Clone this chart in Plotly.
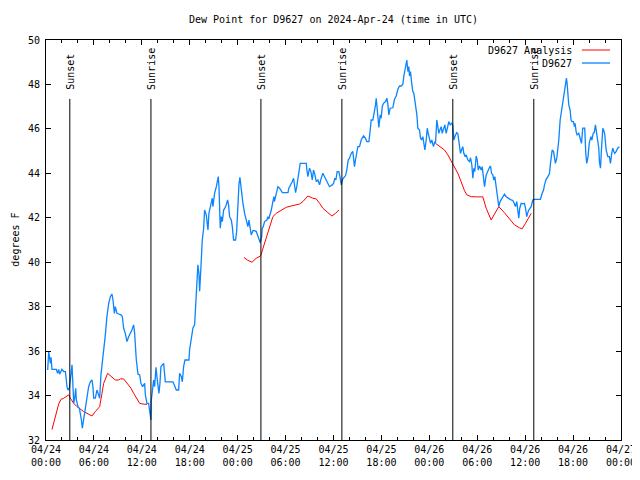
import pandas as pd
import plotly.graph_objects as go

# ---------------- data ----------------
base_time = pd.Timestamp("2024-04-24 00:00")

# D9627 observations (hours since 2024-04-24 00:00 UTC, dew point in F)
obs_hours = [
    0.21, 0.34, 0.55, 0.63, 0.75, 1.00, 1.30, 1.45, 1.59, 1.71, 2.00, 2.22, 2.43, 2.63, 2.75, 2.93,
    3.05, 3.18, 3.26, 3.38, 3.47, 3.59, 3.72, 3.80, 3.88, 4.00, 4.18, 4.30, 4.43, 4.55, 4.68, 4.80,
    4.97, 5.13, 5.34, 5.55, 5.76, 5.88, 5.97, 6.18, 6.38, 6.59, 6.72, 6.88, 7.06, 7.22, 7.43, 7.63,
    7.85, 8.06, 8.26, 8.39, 8.56, 8.68, 8.89, 9.10, 9.39, 9.56, 9.72, 9.93, 10.14, 10.35, 10.56, 10.76,
    10.98, 11.10, 11.31, 11.52, 11.73, 11.89, 12.10, 12.35, 12.44, 12.64, 12.85, 12.98, 13.14, 13.19,
    13.35, 13.48, 13.60, 13.77, 13.89, 14.02, 14.14, 14.27, 14.39, 14.56,
    14.73, 14.94, 15.40, 15.90, 16.32, 16.61, 16.73, 16.95, 17.07, 17.23, 17.40, 17.90, 17.98, 18.20,
    18.40, 18.61, 18.74, 18.90, 19.02, 19.15, 19.24, 19.36, 19.45, 19.57, 19.74, 19.86, 20.07, 20.15,
    20.28, 20.40, 20.57, 20.70, 20.82, 20.90, 21.11, 21.33, 21.45, 21.57, 21.66, 21.74, 21.82, 21.95,
    22.08, 22.24, 22.40, 22.57, 22.74, 22.86, 22.99, 23.20, 23.33, 23.49, 23.74, 23.87, 23.99, 24.16,
    24.28, 24.37, 24.49, 24.66, 24.87, 25.07, 25.28, 25.41, 25.57, 25.70, 25.91, 26.12, 26.33, 26.53,
    26.66, 26.83,
    27.00, 27.08, 27.20, 27.37, 27.66, 27.79, 27.90, 28.08, 28.21, 28.41, 28.54, 28.60, 28.70, 28.83,
    29.04, 29.25, 29.46, 29.60, 30.08, 30.30, 30.41, 30.58, 30.83, 31.00, 31.10, 31.25, 31.40, 31.67,
    31.83, 32.17, 32.59, 32.67, 32.79, 33.00, 33.17, 33.34, 33.50, 33.67, 33.84, 34.05, 34.26, 34.46,
    34.67, 34.88, 35.09, 35.30, 35.50, 35.84, 36.00, 36.17, 36.30, 36.46, 36.67, 36.84, 36.97, 37.17,
    37.51, 37.67, 37.84, 38.00, 38.22, 38.42, 38.63, 38.75, 38.92, 39.05,
    39.26, 39.47, 39.76, 40.01, 40.18, 40.43, 40.60, 40.72, 40.93, 41.14, 41.26, 41.35, 41.47, 41.60,
    41.68, 41.85, 41.97, 42.10, 42.26, 42.52, 42.68, 42.80, 42.93, 43.10, 43.43, 43.64, 43.85, 44.06,
    44.27, 44.48, 44.68, 44.81, 44.93, 45.10, 45.18, 45.31, 45.43, 45.52, 45.64, 45.77, 45.93, 46.06,
    46.23, 46.44, 46.56, 46.77, 46.90, 47.02, 47.19, 47.31, 47.44, 47.61, 47.74, 47.86, 48.02, 48.15,
    48.31, 48.52, 48.69, 48.77, 48.94, 49.06, 49.19, 49.32, 49.49, 49.61, 49.77, 49.94, 50.11, 50.27,
    50.44, 50.61, 50.78, 50.94,
    51.07, 51.28, 51.44, 51.57, 51.70, 51.78, 51.90, 52.03, 52.19, 52.32, 52.49, 52.61, 52.82, 53.03,
    53.16, 53.32, 53.45, 53.57, 53.69, 53.87, 54.00, 54.12, 54.28, 54.49, 54.62, 54.74, 54.91, 55.12,
    55.33, 55.54, 55.66, 55.79, 55.95, 56.07, 56.20, 56.37, 56.49, 56.57, 56.70, 56.86, 57.12, 57.41,
    57.62, 57.83, 58.03, 58.24, 58.45, 58.66, 58.78, 58.95, 59.07, 59.20, 59.32, 59.50, 59.70, 59.91,
    60.04, 60.20, 60.33, 60.45, 60.75, 60.95, 61.16, 61.70, 61.91, 62.13, 62.30, 62.42, 62.63, 62.84,
    63.04, 63.17, 63.25, 63.38, 63.55, 63.67, 63.79, 63.96, 64.09, 64.21, 64.38, 64.55, 64.71, 64.84,
    64.96, 65.05, 65.17, 65.25, 65.34, 65.46, 65.63, 65.75, 65.88, 66.04, 66.17, 66.25, 66.38, 66.50,
    66.71, 66.88, 67.05, 67.21, 67.46, 67.59, 67.71, 67.87, 68.02, 68.23, 68.35, 68.52, 68.65, 68.80,
    68.90, 69.09, 69.22, 69.30, 69.43, 69.55, 69.72, 69.88, 69.97, 70.14, 70.35, 70.55, 70.68, 70.84,
    70.97, 71.10, 71.22, 71.38, 71.59, 71.80,
]
obs_values = [
    35.15, 35.97, 35.45, 35.72, 35.18, 35.18, 35.18, 35.00, 35.18, 34.96, 35.18, 35.08, 35.08, 34.40, 34.25, 34.33,
    34.70, 35.15, 35.38, 34.40, 33.65, 33.88, 34.33, 33.80, 33.65, 33.50, 33.43, 33.20, 32.90, 32.53, 32.82, 33.20,
    33.50, 33.95, 34.40, 34.62, 34.70, 34.40, 33.88, 33.88, 34.25, 34.03, 33.88, 34.93, 35.45, 35.97, 36.73, 37.55,
    38.15, 38.45, 38.57, 38.30, 37.70, 38.00, 37.70, 37.67, 37.63, 37.55, 37.03, 36.80, 36.43, 36.65, 36.80, 36.95,
    37.18, 36.80, 35.60, 34.96, 34.93, 34.55, 34.40, 34.55, 34.03, 33.65, 33.65, 33.20, 32.90, 33.80,
    34.25, 34.70, 34.40, 35.27, 34.85, 34.55, 34.10, 34.55, 35.30, 35.38,
    35.45, 34.62, 34.62, 34.62, 34.25, 34.25, 35.00, 34.85, 34.62, 35.30, 35.60, 35.60, 36.05, 36.65,
    37.04, 37.18, 38.16, 38.90, 39.88, 39.50, 38.70, 39.50, 40.25, 41.00, 41.53, 42.35, 42.13, 41.68,
    41.45, 42.20, 42.50, 42.72, 42.88, 42.50, 43.10, 43.40, 43.70, 43.85, 43.40, 42.35, 41.53, 42.05,
    41.83, 42.35, 42.43, 42.58, 42.80, 42.58, 42.05, 41.90, 41.60, 41.00, 41.00, 41.38, 42.50, 43.48,
    43.82, 43.48, 43.18, 42.65, 42.20, 41.83, 41.60, 41.90, 41.45, 41.23, 41.42, 41.42, 41.38, 41.15,
    41.08, 40.88,
    41.15, 41.53, 41.60, 41.83, 41.90, 42.05, 41.95, 42.13, 42.35, 42.73, 42.95, 42.73, 42.88, 43.10,
    43.40, 43.33, 43.18, 43.13, 43.13, 43.13, 43.33, 43.43, 43.62, 43.78, 43.40, 43.13, 43.40, 44.00,
    44.45, 44.45, 44.45, 44.15, 43.85, 44.23, 44.08, 43.70, 44.15, 43.93, 43.63, 43.70, 43.48, 43.78,
    44.00, 43.85, 43.70, 43.55, 43.40, 43.48, 43.55, 43.78, 43.70, 44.08, 44.08, 43.78, 43.48, 43.75,
    43.90, 44.15, 44.60, 44.68, 44.90, 44.98, 44.30, 44.60, 44.98, 45.20,
    45.20, 45.50, 45.68, 45.57, 45.43, 45.43, 45.95, 46.40, 46.40, 46.78, 47.08, 47.38, 47.00, 46.40,
    46.07, 46.63, 46.48, 47.00, 47.15, 47.23, 47.38, 47.15, 46.63, 46.93, 46.95, 47.33, 47.48, 47.78,
    47.93, 47.93, 48.00, 48.38, 48.68, 48.97, 49.10, 48.58, 48.80, 48.38, 48.58, 48.13, 47.68, 47.60,
    47.15, 46.63, 46.03, 45.95, 45.58, 45.50, 45.65, 45.28, 45.05, 45.50, 46.03, 45.80, 45.58, 45.35,
    45.50, 45.20, 45.43, 45.35, 46.40, 46.18, 45.80, 45.95, 46.10, 45.80, 45.95, 46.18, 45.80, 46.03,
    46.33, 46.18, 46.25, 46.18,
    45.50, 45.73, 45.83, 45.78, 45.43, 45.23, 44.90, 45.05, 45.20, 44.90, 44.75, 44.83, 44.60, 44.53,
    44.70, 44.38, 43.78, 44.23, 44.08, 44.78, 44.60, 44.15, 44.33, 44.15, 44.30, 43.93, 43.40, 43.93,
    44.15, 44.27, 44.33, 44.00, 43.93, 43.70, 43.85, 43.40, 42.95, 42.65, 42.50, 42.73, 42.88, 43.06,
    42.95, 42.88, 42.85, 42.80, 42.78, 42.63, 42.50, 42.73, 42.35, 41.98, 42.43, 42.65, 42.63, 42.65,
    42.43, 42.05, 42.23, 42.35, 42.50, 42.80, 42.83, 42.83, 42.83, 43.10, 43.25, 43.48, 43.73, 43.85,
    43.98, 44.45, 44.75, 45.05, 44.98, 44.68, 44.45, 44.68, 45.00, 45.50, 46.40, 46.85, 47.15, 47.45,
    47.90, 48.13, 48.28, 48.05, 47.65, 47.08, 46.85, 46.40, 46.33, 46.33, 46.10, 46.25, 45.88, 45.73,
    45.80, 45.58, 45.35, 46.03, 46.03, 44.90, 44.45, 44.75, 45.35, 45.65, 45.50, 45.80, 45.83, 46.18,
    45.88, 45.35, 45.13, 44.53, 44.23, 45.05, 46.03, 45.88, 45.73, 45.05, 44.75, 44.75, 44.45, 44.90,
    45.13, 44.98, 44.90, 44.98, 45.13, 45.20,
]

# D9627 Analysis (three separate runs; None marks a gap)
ana_hours = [
    0.75, 1.17, 1.59, 1.88, 2.22, 2.63, 2.84, 3.05, 3.47, 3.88, 4.30, 4.72, 5.13, 5.76, 6.18, 6.72,
    7.01, 7.22, 7.72, 8.06, 8.26, 8.68, 9.10, 9.31, 9.72, 10.14, 10.64, 10.98, 11.39, 11.73, 12.14, 12.64,
    None,
    24.78, 25.20, 25.79, 26.33, 26.87, 27.16, 27.58, 28.00, 28.41, 28.83, 29.46, 30.08, 30.70, 31.75,
    32.17, 32.79, 33.42, 33.84, 34.26, 34.67, 35.30, 35.80, 36.26, 36.67,
    None,
    48.77, 49.27, 49.90, 50.32, 50.94, 51.57, 51.98, 52.40, 52.70, 53.24, 53.87, 54.70, 55.12, 55.74,
    56.16, 56.70, 57.40, 58.03, 58.66, 59.29, 59.62, 60.04, 60.45, 60.75,
]
ana_values = [
    32.47, 33.02, 33.62, 33.83, 33.88, 33.98, 34.03, 33.88, 33.65, 33.50, 33.38, 33.28, 33.20, 33.08, 33.28, 33.50,
    34.10, 34.55, 35.00, 34.88, 34.82, 34.70, 34.70, 34.75, 34.75, 34.55, 34.33, 34.10, 33.83, 33.65, 33.62, 33.60,
    None,
    40.22, 40.10, 40.00, 40.18, 40.28, 40.63, 41.08, 41.60, 42.05, 42.20, 42.35, 42.47, 42.53, 42.62,
    42.73, 42.98, 42.88, 42.85, 42.65, 42.43, 42.23, 42.08, 42.20, 42.35,
    None,
    45.35, 45.23, 45.05, 44.83, 44.45, 44.00, 43.63, 43.22, 43.03, 42.95, 42.94, 42.94, 42.43, 41.90,
    42.17, 42.50, 42.23, 41.98, 41.68, 41.55, 41.50, 41.75, 42.05, 42.20,
]

# Sunrise / sunset markers
sun_labels = ["Sunset", "Sunrise", "Sunset", "Sunrise", "Sunset", "Sunrise"]
sun_hours = [2.98, 13.14, 26.91, 37.05, 50.94, 61.08]

y_ticks = [32, 34, 36, 38, 40, 42, 44, 46, 48, 50]
series_names = ["D9627 Analysis", "D9627"]

# ---------------- helpers ----------------
def to_time(hours):
    return [None if h is None else base_time + pd.Timedelta(hours=h) for h in hours]

FONT = "DejaVu Sans Mono"
RED = "#ff0000"
BLUE = "#0a84ff"

fig = go.Figure()
fig.add_trace(go.Scatter(x=to_time(ana_hours), y=ana_values, mode="lines",
                         name=series_names[0], line=dict(color=RED, width=1),
                         connectgaps=False, showlegend=False))
fig.add_trace(go.Scatter(x=to_time(obs_hours), y=obs_values, mode="lines",
                         name=series_names[1], line=dict(color=BLUE, width=1.3),
                         showlegend=False))

# sunrise/sunset lines and labels
for lab, h in zip(sun_labels, sun_hours):
    t = base_time + pd.Timedelta(hours=h)
    fig.add_shape(type="line", xref="x", yref="y", x0=t, x1=t, y0=32, y1=47.35,
                  line=dict(color="black", width=1))
    fig.add_annotation(x=t, y=47.66, xref="x", yref="y", text=lab, textangle=-90,
                       showarrow=False, xanchor="center", yanchor="bottom",
                       font=dict(family=FONT, size=10, color="black"))

# manual gnuplot-style key (text right-aligned, sample on the right)
key_rows = [0.975, 0.9425]
for name, col, ky in zip(series_names, [RED, BLUE], key_rows):
    fig.add_annotation(x=0.918, y=ky, xref="paper", yref="paper", text=name,
                       showarrow=False, xanchor="right", yanchor="middle",
                       font=dict(family=FONT, size=10, color="black"))
    fig.add_shape(type="line", xref="paper", yref="paper", x0=0.932, x1=0.981,
                  y0=ky, y1=ky, line=dict(color=col, width=1.3 if col == BLUE else 1))

# y-axis title
fig.add_annotation(x=-0.0545, y=0.5, xref="paper", yref="paper", text="degrees F",
                   textangle=-90, showarrow=False, xanchor="center", yanchor="middle",
                   font=dict(family=FONT, size=10, color="black"))

# chart title
fig.add_annotation(x=0.5, y=1 + 20 / 400, xref="paper", yref="paper",
                   text="Dew Point for D9627 on 2024-Apr-24 (time in UTC)",
                   showarrow=False, xanchor="center", yanchor="middle",
                   font=dict(family=FONT, size=10, color="black"))

# the page body has an 8px margin, so the figure is 8px smaller than the window
fig.update_layout(
    width=632, height=472,
    margin=dict(l=38, r=19, t=32, b=40, autoexpand=False),
    paper_bgcolor="white", plot_bgcolor="white",
    font=dict(family=FONT, size=10, color="black"),
    showlegend=False,
)
fig.update_xaxes(
    type="date", automargin=False,
    range=[base_time, base_time + pd.Timedelta(hours=72)],
    dtick=6 * 3600 * 1000, tick0=base_time,
    tickformat="%m/%d<br>%H:%M",
    ticks="inside", ticklen=5, tickcolor="black",
    minor=dict(dtick=2 * 3600 * 1000, ticks="inside", ticklen=3, tickcolor="black", showgrid=False),
    showline=True, linecolor="black", linewidth=1, mirror="allticks",
    showgrid=False, zeroline=False,
    tickfont=dict(family=FONT, size=10, color="black"),
)
fig.update_yaxes(
    automargin=False,
    range=[32, 50], tickvals=y_ticks, ticktext=[str(v) for v in y_ticks],
    ticks="inside", ticklen=5, tickcolor="black", ticklabelstandoff=3,
    showline=True, linecolor="black", linewidth=1, mirror="allticks",
    showgrid=False, zeroline=False,
    tickfont=dict(family=FONT, size=10, color="black"),
)

fig.write_html("out.html")
